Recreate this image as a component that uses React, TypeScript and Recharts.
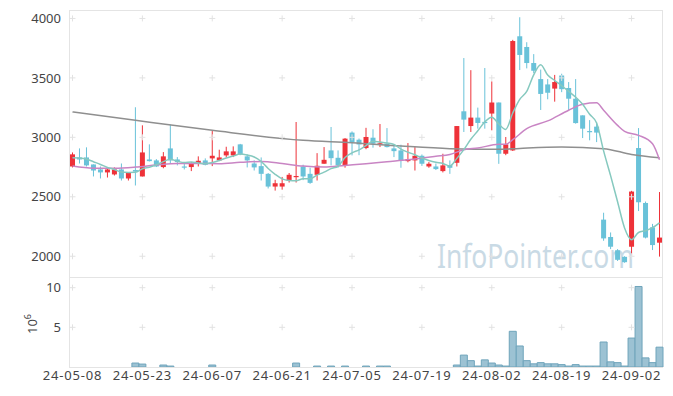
import React from "react";
import {
  ComposedChart,
  Bar,
  Line,
  XAxis,
  YAxis,
  ReferenceDot,
} from "recharts";

const dates = [
  "24-05-08", "24-05-09", "24-05-10", "24-05-13", "24-05-14", "24-05-16", "24-05-17", "24-05-20", "24-05-21", "24-05-22",
  "24-05-23", "24-05-24", "24-05-27", "24-05-28", "24-05-29", "24-05-30", "24-05-31", "24-06-03", "24-06-04", "24-06-05",
  "24-06-07", "24-06-10", "24-06-11", "24-06-12", "24-06-13", "24-06-14", "24-06-17", "24-06-18", "24-06-19", "24-06-20",
  "24-06-21", "24-06-24", "24-06-25", "24-06-26", "24-06-27", "24-06-28", "24-07-01", "24-07-02", "24-07-03", "24-07-04",
  "24-07-05", "24-07-08", "24-07-09", "24-07-10", "24-07-11", "24-07-12", "24-07-15", "24-07-16", "24-07-17", "24-07-18",
  "24-07-19", "24-07-22", "24-07-23", "24-07-24", "24-07-25", "24-07-26", "24-07-29", "24-07-30", "24-07-31", "24-08-01",
  "24-08-02", "24-08-05", "24-08-06", "24-08-07", "24-08-08", "24-08-09", "24-08-12", "24-08-13", "24-08-14", "24-08-16",
  "24-08-19", "24-08-20", "24-08-21", "24-08-22", "24-08-23", "24-08-26", "24-08-27", "24-08-28", "24-08-29", "24-08-30",
  "24-09-02", "24-09-03", "24-09-04", "24-09-05", "24-09-06",
];

const opens = [
  2755, 2831, 2831, 2772, 2730, 2705, 2688, 2730, 2654, 2725,
  2671, 2814, 2806, 2750, 2907, 2814, 2755, 2750, 2778, 2806,
  2823, 2806, 2848, 2848, 2941, 2840, 2780, 2758, 2693, 2586,
  2586, 2634, 2668, 2755, 2693, 2685, 2778, 2890, 2828, 2764,
  3040, 2980, 2910, 2997, 2935, 2947, 2907, 2890, 2800, 2806,
  2845, 2755, 2755, 2716, 2767, 2786, 3219, 3095, 3166, 3130,
  3200, 3293, 2862, 2890, 3850, 3760, 3625, 3490, 3445, 3410,
  3520, 3415, 3325, 3185, 3053, 3090, 2308, 2162, 2050, 1995,
  2080, 2910, 2448, 2243, 2114,
];

const highs = [
  2873, 2907, 2916, 2772, 2755, 2747, 2747, 2780, 2705, 3253,
  3101, 2941, 2817, 2876, 3107, 2834, 2792, 2792, 2840, 2823,
  3053, 2896, 2921, 2924, 2945, 2856, 2806, 2831, 2700, 2643,
  2667, 2700, 3129, 2770, 2745, 2867, 2918, 3087, 2890, 2994,
  3050, 2990, 3080, 3068, 3112, 3078, 2932, 2938, 2952, 2918,
  2856, 2792, 2780, 2862, 2806, 3095, 3667, 3565, 3250, 3583,
  3470, 3293, 3003, 3820, 4010, 3800, 3700, 3570, 3490, 3525,
  3535, 3465, 3490, 3185, 3145, 3125, 2366, 2200, 2060, 2000,
  2550, 3078, 2460, 2272, 2540,
];

const lows = [
  2747, 2780, 2755, 2671, 2654, 2662, 2679, 2637, 2637, 2595,
  2671, 2797, 2750, 2740, 2780, 2764, 2730, 2716, 2755, 2764,
  2758, 2800, 2831, 2834, 2850, 2747, 2721, 2637, 2570, 2552,
  2560, 2620, 2620, 2640, 2609, 2637, 2778, 2764, 2745, 2745,
  2848, 2850, 2900, 2913, 2918, 2915, 2834, 2744, 2790, 2721,
  2760, 2744, 2725, 2705, 2693, 2755, 3045, 3045, 3073, 3073,
  3059, 2777, 2850, 2885, 3566, 3580, 3540, 3230, 3320, 3300,
  3380, 3230, 3115, 2994, 2975, 2960, 2130, 2060, 1960, 1945,
  2005, 2380, 2150, 2052, 1997,
];

const closes = [
  2857, 2814, 2764, 2721, 2705, 2730, 2730, 2654, 2705, 2712,
  2873, 2800, 2755, 2840, 2806, 2792, 2747, 2778, 2803, 2769,
  2845, 2831, 2882, 2882, 2856, 2806, 2747, 2693, 2586, 2614,
  2614, 2685, 2675, 2671, 2617, 2761, 2811, 2825, 2764, 2989,
  2958, 2940, 3003, 2947, 2950, 2918, 2884, 2806, 2817, 2845,
  2778, 2778, 2733, 2764, 2744, 3095, 3149, 3166, 3121, 3120,
  3293, 2862, 2941, 3810, 3693, 3625, 3560, 3365, 3375, 3465,
  3405, 3325, 3120, 3073, 3048, 3040, 2150, 2080, 1970, 1950,
  2544, 2454, 2157, 2094, 2157,
];

// volume in millions
const volumes = [
  0, 0, 0, 0, 0, 0, 0, 0, 0, 0.5,
  0.37, 0, 0, 0.25, 0.12, 0, 0, 0, 0, 0,
  0.25, 0, 0, 0, 0, 0, 0, 0, 0, 0,
  0, 0, 0.5, 0, 0, 0.12, 0, 0.12, 0, 0.12,
  0, 0, 0.12, 0, 0.12, 0.12, 0, 0, 0, 0,
  0, 0, 0, 0, 0, 0.25, 1.5, 0.8, 0.12, 0.9,
  0.5, 0.25, 0.12, 4.5, 2.65, 0.8, 0.4, 0.55, 0.4, 0.4,
  0.3, 0.12, 0.3, 0.12, 0.12, 0.12, 3.15, 0.65, 0.55, 0.12,
  3.65, 10.15, 1.15, 0.55, 2.5,
];

const ma5 = [
  2828, 2826, 2818, 2795, 2772, 2747, 2730, 2708, 2705, 2706,
  2735, 2749, 2769, 2796, 2815, 2799, 2788, 2793, 2785, 2778,
  2788, 2805, 2826, 2842, 2859, 2851, 2835, 2797, 2738, 2689,
  2651, 2638, 2635, 2652, 2652, 2682, 2707, 2737, 2756, 2830,
  2869, 2895, 2931, 2967, 2960, 2952, 2940, 2901, 2875, 2854,
  2826, 2805, 2790, 2780, 2759, 2823, 2897, 2984, 3055, 3130,
  3170, 3112, 3067, 3205, 3320, 3386, 3526, 3611, 3524, 3478,
  3434, 3387, 3338, 3278, 3194, 3121, 2886, 2678, 2458, 2238,
  2139, 2200, 2215, 2240, 2281,
];

const ma20: (number | null)[] = [
  2758, null, null, 2741, null, null, 2741, null, null, 2750,
  null, null, 2767, null, null, 2780, null, null, 2780, null,
  null, 2778, null, null, 2790, null, null, 2797, null, null,
  2780, null, null, 2758, null, null, 2750, null, null, 2764,
  null, null, 2778, null, null, 2795, null, null, 2811, null,
  null, null, 2840, null, 2856, null, 2896, null, 2910, null,
  null, 2941, 2941, 2980, null, 3073, null, null, 3138, null,
  null, 3228, null, 3278, null, 3290, 3228, null, 3101, 3051,
  null, 3017, null, 2947, 2811,
];

// long average (grey)
const ma120: (number | null)[] = [
  3214, null, null, null, null, null, null, null, null, 3143,
  null, null, null, null, null, null, null, null, null, null,
  3059, null, null, null, null, null, null, null, null, null,
  null, null, null, 2975, null, null, null, null, null, null,
  2955, null, null, null, null, null, null, 2927, null, null,
  null, null, null, null, 2905, null, null, null, null, null,
  null, 2899, null, null, 2907, null, null, null, null, null,
  2918, null, null, null, null, null, 2905, null, null, null,
  2856, null, null, null, 2828,
];

const tickDates = ["24-05-08", "24-05-23", "24-06-07", "24-06-21", "24-07-05", "24-07-19", "24-08-02", "24-08-19", "24-09-02"];
const priceTicks = [2000, 2500, 3000, 3500, 4000];
const volTicks = [5, 10];

const RED = "#ee3239";
const BLUE = "#69c2d9";
const FONT = "'Noto Sans', sans-serif";

const data = dates.map((d, i) => ({
  date: d,
  open: opens[i],
  high: highs[i],
  low: lows[i],
  close: closes[i],
  vol: volumes[i],
  ma5: ma5[i],
  ma20: ma20[i],
  ma120: ma120[i],
}));

const Candle = (props: any) => {
  const { x, y, width, height, payload } = props;
  if (payload == null) return null;
  const { open, close, high, low } = payload;
  const color = close >= open ? RED : BLUE;
  const pTop = Math.min(y, y + height);
  const pBot = Math.max(y, y + height);
  const span = high - low || 1;
  const toY = (v: number) => pTop + ((high - v) / span) * (pBot - pTop);
  const bTop = toY(Math.max(open, close));
  const bBot = toY(Math.min(open, close));
  const cx = x + width / 2;
  const bw = 5;
  return (
    <g>
      <line x1={cx} x2={cx} y1={pTop} y2={pBot} stroke={color} strokeWidth={1} />
      <rect x={cx - bw / 2} y={bTop} width={bw} height={Math.max(bBot - bTop, 1.2)} fill={color} />
    </g>
  );
};

const Plus = (props: any) => {
  const { cx, cy } = props;
  if (cx == null || cy == null) return null;
  return (
    <g>
      <line x1={cx - 3} x2={cx + 3} y1={cy} y2={cy} stroke="#e2e2e2" strokeWidth={1} />
      <line x1={cx} x2={cx} y1={cy - 3} y2={cy + 3} stroke="#e2e2e2" strokeWidth={1} />
    </g>
  );
};

const tickStyle = { fill: "#444", fontSize: 13, fontFamily: FONT };

export default function App() {
  return (
    <div style={{ position: "relative", width: 673, height: 396, background: "#fff", fontFamily: FONT }}>
      <style>{`body{margin:0}`}</style>

      {/* watermark and axis title */}
      <svg width={673} height={396} style={{ position: "absolute", left: 0, top: 0 }}>
        <text transform="translate(437,268) scale(0.8,1)" x={0} y={0} fontSize={33} fill="#c9dae5" fontFamily={FONT}>
          InfoPointer.com
        </text>
        <text transform="translate(37,324) rotate(-90)" textAnchor="middle" fontSize={13} fill="#444" fontFamily={FONT}>
          10<tspan dy={-6} fontSize={9}>6</tspan>
        </text>
      </svg>

      {/* panel frames */}
      <div style={{ position: "absolute", left: 69, top: 10, width: 594, height: 268, border: "1px solid #e4e4e4", boxSizing: "border-box" }} />
      <div style={{ position: "absolute", left: 69, top: 277, width: 594, height: 91, border: "1px solid #e4e4e4", boxSizing: "border-box" }} />

      <div style={{ position: "absolute", left: 0, top: 0 }}>
        <ComposedChart
          width={673}
          height={280}
          data={data}
          margin={{ top: 10, right: 10, bottom: 2, left: 0 }}
          barCategoryGap={0}
        >
          <XAxis dataKey="date" type="category" hide />
          <YAxis
            width={69}
            domain={[1817, 4071]}
            ticks={priceTicks}
            axisLine={false}
            tickLine={false}
            tick={tickStyle}
            allowDataOverflow
          />
          {tickDates.map((d) =>
            priceTicks.map((p) => (
              <ReferenceDot key={`${d}-${p}`} x={d} y={p} r={3} shape={(pr: any) => <Plus {...pr} />} />
            ))
          )}
          <Bar
            dataKey={(d: any) => [d.low, d.high]}
            shape={(p: any) => <Candle {...p} />}
            isAnimationActive={false}
          />
          <Line type="monotone" dataKey="ma120" stroke="#8f8f8f" strokeWidth={1.5} dot={false} connectNulls isAnimationActive={false} />
          <Line type="monotone" dataKey="ma20" stroke="#c985c4" strokeWidth={1.5} dot={false} connectNulls isAnimationActive={false} />
          <Line type="monotone" dataKey="ma5" stroke="#86c9bf" strokeWidth={1.5} dot={false} isAnimationActive={false} />
        </ComposedChart>
      </div>

      <div style={{ position: "absolute", left: 0, top: 278 }}>
        <ComposedChart
          width={673}
          height={118}
          data={data}
          margin={{ top: 0, right: 10, bottom: 0, left: 0 }}
          barCategoryGap={0}
        >
          <XAxis
            dataKey="date"
            type="category"
            ticks={tickDates}
            interval={0}
            height={29}
            axisLine={false}
            tickLine={false}
            tickSize={2}
            tickMargin={2}
            tick={{ ...tickStyle, letterSpacing: 0.8 }}
          />
          <YAxis
            width={69}
            domain={[0, 11.22]}
            ticks={volTicks}
            axisLine={false}
            tickLine={false}
            tick={tickStyle}
            allowDataOverflow
          />
          {tickDates.map((d) =>
            volTicks.map((v) => (
              <ReferenceDot key={`${d}-${v}`} x={d} y={v} r={3} shape={(pr: any) => <Plus {...pr} />} />
            ))
          )}
          <Bar dataKey="vol" fill="#9cc2d3" stroke="#6fa4bb" strokeWidth={1} isAnimationActive={false} />
        </ComposedChart>
      </div>
    </div>
  );
}
